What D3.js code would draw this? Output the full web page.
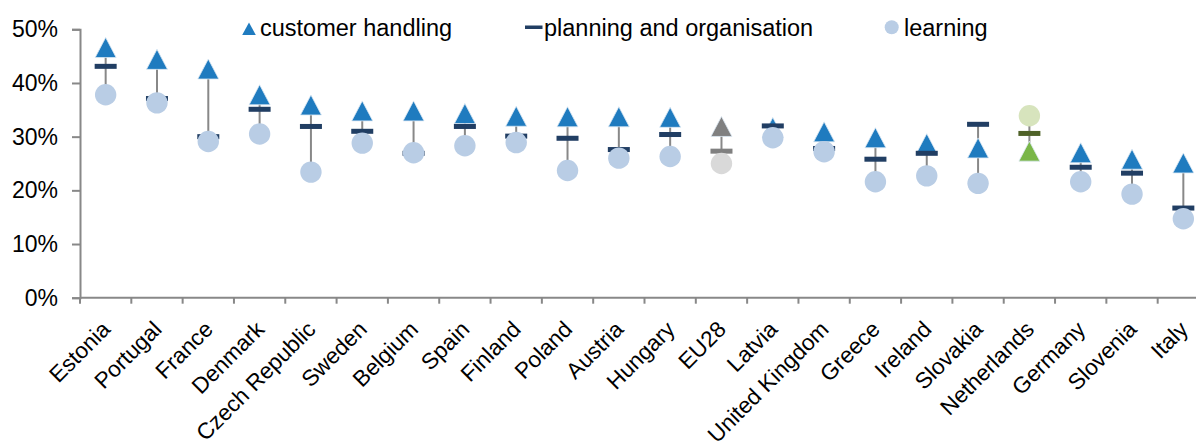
<!DOCTYPE html>
<html>
<head>
<meta charset="utf-8">
<script src="https://cdn.jsdelivr.net/npm/d3@7"></script>
<style>
  html, body { margin: 0; padding: 0; background: #fff; }
  svg { display: block; font-family: "Liberation Sans", Arial, sans-serif; }
</style>
</head>
<body>
<svg id="chart" width="1196" height="443"></svg>
<script>
const categories = ["Estonia","Portugal","France","Denmark","Czech Republic","Sweden","Belgium","Spain","Finland","Poland","Austria","Hungary","EU28","Latvia","United Kingdom","Greece","Ireland","Slovakia","Netherlands","Germany","Slovenia","Italy"];
const customerHandling = [0.466,0.444,0.426,0.378,0.359,0.348,0.348,0.343,0.338,0.337,0.337,0.336,0.319,0.317,0.309,0.298,0.287,0.279,0.273,0.270,0.258,0.251];
const planningOrganisation = [0.431,0.371,0.300,0.351,0.319,0.310,0.269,0.319,0.301,0.297,0.276,0.304,0.273,0.320,0.278,0.258,0.269,0.323,0.306,0.243,0.232,0.167];
const learning = [0.378,0.363,0.291,0.305,0.234,0.288,0.270,0.283,0.289,0.237,0.260,0.263,0.250,0.298,0.272,0.216,0.227,0.213,0.339,0.216,0.193,0.147];
const seriesNames = ["customer handling","planning and organisation","learning"];
const yTicks = [0,0.1,0.2,0.3,0.4,0.5];

const colors = {
  default: { tri: "#1F7BBF", dash: "#213E63", circ: "#B9CDE5" },
  EU28: { tri: "#808080", dash: "#808080", circ: "#D9D9D9" },
  Netherlands: { tri: "#7AB648", dash: "#4F6228", circ: "#D7E4BD" }
};
const colorFor = c => colors[c] || colors.default;

const svg = d3.select("#chart");
const x = d3.scaleBand().domain(categories).range([80, 1209]);
const y = d3.scaleLinear().domain([0, 0.5]).range([297.7, 29.3]);

// Y axis
const yAxis = d3.axisLeft(y).tickValues(yTicks).tickFormat(d3.format(".0%")).tickSize(8).tickPadding(14);
const gy = svg.append("g").attr("transform", "translate(80,0)").call(yAxis);
gy.select(".domain").attr("stroke", "#888").attr("stroke-width", 2);
gy.selectAll(".tick line").attr("stroke", "#888").attr("stroke-width", 2);
gy.selectAll(".tick text").attr("font-size", 23).attr("fill", "#000").attr("font-family", "Liberation Sans, Arial, sans-serif");

// X axis
const xTickPos = categories.map(c => x(c)).concat([x.range()[1]]);
const gx = svg.append("g").attr("transform", `translate(0,${y(0)})`);
gx.append("line").attr("x1", 80).attr("x2", 1209).attr("y1", 0).attr("y2", 0).attr("stroke", "#888").attr("stroke-width", 2);
gx.selectAll("line.tk").data(xTickPos).join("line").attr("class", "tk")
  .attr("x1", d => d).attr("x2", d => d).attr("y1", 0).attr("y2", 6).attr("stroke", "#888").attr("stroke-width", 2);
gx.selectAll("text").data(categories).join("text")
  .attr("transform", d => `translate(${x(d) + x.bandwidth() / 2 + 6},33) rotate(-45)`)
  .attr("text-anchor", "end")
  .attr("font-size", 22.5)
  .attr("fill", "#000")
  .text(d => d);

const cx = c => x(c) + x.bandwidth() / 2;
const plot = svg.append("g");

// High-low lines
plot.selectAll("line.hl").data(categories).join("line").attr("class", "hl")
  .attr("x1", cx).attr("x2", cx)
  .attr("y1", (c, i) => y(Math.max(customerHandling[i], planningOrganisation[i], learning[i])))
  .attr("y2", (c, i) => y(Math.min(customerHandling[i], planningOrganisation[i], learning[i])))
  .attr("stroke", "#888").attr("stroke-width", 2);

// Triangles
const triW = 21, triH = 20;
const triPath = `M0,${-triH/2}L${triW/2},${triH/2}L${-triW/2},${triH/2}Z`;
plot.selectAll("path.tri").data(categories).join("path").attr("class", "tri")
  .attr("d", triPath)
  .attr("transform", (c, i) => `translate(${cx(c)},${y(customerHandling[i])})`)
  .attr("fill", c => colorFor(c).tri)
  .attr("stroke", "#DCE8F4").attr("stroke-width", 0.8);

// Dashes
plot.selectAll("rect.dash").data(categories).join("rect").attr("class", "dash")
  .attr("x", c => cx(c) - 11).attr("width", 22)
  .attr("y", (c, i) => y(planningOrganisation[i]) - 2.5).attr("height", 5)
  .attr("fill", c => colorFor(c).dash);

// Circles
plot.selectAll("circle.lr").data(categories).join("circle").attr("class", "lr")
  .attr("cx", cx).attr("cy", (c, i) => y(learning[i])).attr("r", 10.7)
  .attr("fill", c => colorFor(c).circ);

// Legend
const legend = svg.append("g").attr("font-size", 23.5).attr("fill", "#000");
legend.append("path").attr("d", `M0,-6.5L6.8,6L-6.8,6Z`).attr("transform", "translate(249,29)").attr("fill", colors.default.tri);
legend.append("text").attr("x", 260).attr("y", 36).text(seriesNames[0]);
legend.append("rect").attr("x", 525).attr("y", 25.5).attr("width", 17.5).attr("height", 3.5).attr("fill", colors.default.dash);
legend.append("text").attr("x", 544).attr("y", 36).text(seriesNames[1]);
legend.append("circle").attr("cx", 891.7).attr("cy", 27.3).attr("r", 7).attr("fill", colors.default.circ);
legend.append("text").attr("x", 904).attr("y", 36).text(seriesNames[2]);
</script>
</body>
</html>
